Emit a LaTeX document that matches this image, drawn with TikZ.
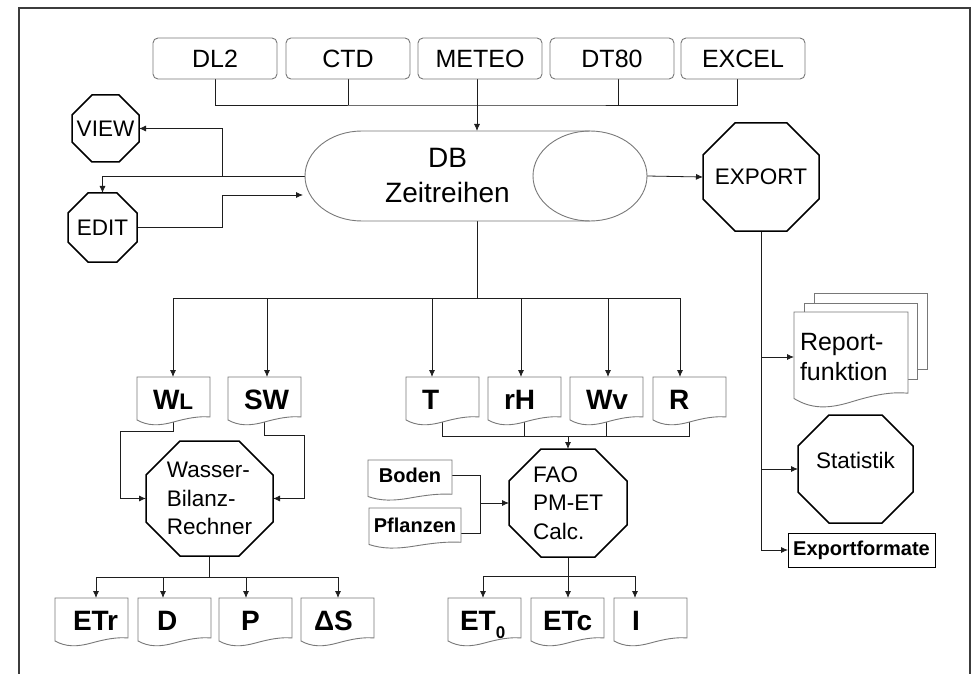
\documentclass[tikz,border=0pt]{standalone}
\usepackage{fontspec}
\setmainfont{Liberation Sans}
\usetikzlibrary{arrows.meta, calc, positioning}
\renewcommand{\scriptsize}{\fontsize{20}{24}\selectfont}
\renewcommand{\small}{\fontsize{22.5}{28.5}\selectfont}
\renewcommand{\normalsize}{\fontsize{25}{30}\selectfont}
\renewcommand{\large}{\fontsize{28}{35}\selectfont}
\definecolor{FrameGray}{RGB}{60,60,60}
\definecolor{BoxGray}{RGB}{120,120,120}
\definecolor{LinkDark}{RGB}{30,30,30}
\pgfdeclarelayer{background}
\pgfsetlayers{background,main}

% document sheet with a wavy lower edge round a node
\newcommand{\docshape}[2][4]{%
  \draw[docline] (#2.north west) -- ($(#2.south west)+(0,-0.5*#1)$)
    .. controls ($(#2.south west)!0.15!(#2.south east)+(0,#1)$)
           and ($(#2.south west)!0.3!(#2.south east)+(0,#1)$) .. (#2.south)
    .. controls ($(#2.south west)!0.7!(#2.south east)+(0,-#1)$)
           and ($(#2.south west)!0.85!(#2.south east)+(0,-1.5*#1)$)
    .. ($(#2.south east)+(0,-1.25*#1)$) -- (#2.north east) -- cycle;}
% octagon round a node
\newcommand{\octshape}[2][32]{%
  \draw[octline] ([xshift=#1pt]#2.north west) -- ([xshift=-#1pt]#2.north east)
    -- ([yshift=-#1pt]#2.north east) -- ([yshift=#1pt]#2.south east)
    -- ([xshift=-#1pt]#2.south east) -- ([xshift=#1pt]#2.south west)
    -- ([yshift=#1pt]#2.south west) -- ([yshift=-#1pt]#2.north west) -- cycle;}

\begin{document}
\begin{tikzpicture}[x=1pt, y=-1pt,
    src/.style={draw=BoxGray, rounded corners=5pt, line width=0.9pt,
                minimum width=124pt, minimum height=41pt, inner sep=0pt,
                outer sep=0pt, font=\normalsize},
    oct/.style={inner sep=0pt, outer sep=0pt, align=left, font=\small},
    doc/.style={inner sep=0pt, outer sep=0pt, minimum width=73pt,
                minimum height=45pt, text width=41pt, align=left,
                text height=20pt, text depth=0pt, font=\large\bfseries},
    tag/.style={inner sep=0pt, outer sep=0pt, minimum height=38pt,
                align=center, text height=15pt, font=\scriptsize\bfseries},
    link/.style={draw=LinkDark, line width=0.8pt},
    flow/.style={link, -{Latex[length=7pt, width=6pt]}},
    docline/.style={draw=BoxGray, line width=0.9pt, fill=white},
    octline/.style={draw=black, line width=1.5pt},
  ]
  \useasboundingbox (0,0) rectangle (975,674);
  \draw[FrameGray, line width=1.4pt] (19,674) -- (19,8) -- (970,8) -- (970,674);

  % data sources
  \node[src] (dl2) at (215,58.5) {DL2};
  \node[src, right=9pt of dl2] (ctd) {CTD};
  \node[src, right=8pt of ctd] (meteo) {METEO};
  \node[src, right=8pt of meteo] (dt80) {DT80};
  \node[src, right=7pt of dt80] (excel) {EXCEL};

  % database
  \node[inner sep=0pt, outer sep=0pt, minimum width=285pt, minimum height=90pt,
        align=center, font=\large] (db) at (447.5,176) {DB\\Zeitreihen};
  \coordinate (dbend) at ([xshift=57pt]db.east);

  \node[oct, minimum width=67pt, minimum height=67pt] (view) at (105.5,128.5) {VIEW};
  \node[oct, minimum width=69pt, minimum height=69pt] (edit) at (102.5,227.5) {EDIT};
  \node[oct, minimum width=116pt, minimum height=108pt] (export) at (761,177) {EXPORT};

  % series
  \node[doc] (wl) at (173.5,399.5) {W{\small L}};
  \node[doc] (sw) at (264.5,399.5) {SW};
  \node[doc] (t) at (442.5,399.5) {T};
  \node[doc, right=9pt of t] (rh) {rH};
  \node[doc, right=9pt of rh] (wv) {Wv};
  \node[doc, right=10pt of wv] (r) {R};

  \node[oct, minimum width=127pt, minimum height=115pt] (wasser) at (209.5,498.5)
    {Wasser-\\Bilanz-\\Rechner};
  \node[oct, minimum width=118pt, minimum height=108pt] (fao) at (568,503)
    {FAO\\PM-ET\\Calc.};
  \node[tag, minimum width=84pt, text depth=8pt] (boden) at (410,479) {Boden};
  \node[tag, minimum width=92pt, text depth=4pt] (pflanzen) at (415,527) {Pflanzen};

  % results
  \node[doc, text width=37pt] (etr) at (91.5,620.5) {ETr};
  \node[doc, text width=35pt, right=10pt of etr] (d) {D};
  \node[doc, text width=29pt, right=8pt of d] (p) {P};
  \node[doc, text width=47pt, right=9pt of p] (ds) {ΔS};
  \node[doc, text width=49pt] (et0) at (484.5,620.5)
    {ET\raisebox{-8pt}{\fontsize{17}{17}\selectfont 0}};
  \node[doc, text width=49pt, right=10pt of et0] (etc) {ETc};
  \node[doc, text width=37pt, right=10pt of etc] (i) {I};

  % export side
  \node[inner sep=0pt, outer sep=0pt, minimum width=114pt, minimum height=90pt,
        text width=102pt, align=left, font=\normalsize] (report) at (851,357)
    {Report-\\funktion};
  \node[oct, minimum width=115pt, minimum height=108pt, text depth=18pt] (stat)
    at (855.5,469) {Statistik};
  \node[draw=black, line width=0.9pt, inner sep=0pt, outer sep=0pt,
        minimum width=147pt, minimum height=34pt, font=\scriptsize\bfseries]
    (expf) at (861.5,550) {Exportformate};

  \begin{pgfonlayer}{background}
    \coordinate (bus) at (477,105);
    \coordinate (split) at (477,298);
    \draw[link] (dl2.south) |- (bus) -| ([xshift=-6pt]excel.south);
    \draw[link] (ctd.south) -- (ctd.south |- bus);
    \draw[link] ([xshift=6pt]dt80.south) -- ([xshift=6pt]dt80.south |- bus);
    \draw[flow] (meteo.south -| bus) -- (bus |- db.north);

    \coordinate (vsplit) at (222,176);
    \coordinate (dbin) at (303,195);
    \draw[flow] (db.west) -| (edit.north);
    \draw[flow] (vsplit) |- (view.east);
    \draw[flow] (edit.east) -| (vsplit |- dbin) -- (dbin);
    \draw[flow] (dbend) -- (export.west);

    \draw[link] (bus |- db.south) -- (split);
    \foreach \n/\dx in {wl/-0.5, sw/2.5, t/-10.5, rh/-3.5, wv/1.5, r/-9.5}
      \draw[flow] (split) -| ([xshift=\dx pt]\n.north);

    \draw[flow] (wl.south) |- ++(-53,9) |- (wasser.west);
    \draw[flow] (sw.south) |- ++(40,13) |- (wasser.east);
    \coordinate (wsplit) at (209.5,577);
    \draw[link] (wasser.south) -- (wsplit);
    \foreach \n/\dx in {etr/4.5, d/-11.5, p/-9.5, ds/0.5}
      \draw[flow] (wsplit) -| ([xshift=\dx pt]\n.north);

    \coordinate (mjoin) at (568,436);
    \foreach \n in {t,rh,wv,r}
      \draw[link] (\n.south) |- (mjoin);
    \draw[flow] (mjoin) -- (fao.north);
    \coordinate (fjoin) at (480,503);
    \draw[link] ([yshift=4pt]boden.east) -| (fjoin);
    \draw[link] ([yshift=-6pt]pflanzen.east) -| (fjoin);
    \draw[flow] (fjoin) -- (fao.west);
    \coordinate (fsplit) at (568,576);
    \draw[link] (fao.south) -- (fsplit);
    \foreach \n/\dx in {et0/-1.5, etc/0.5, i/-15.5}
      \draw[flow] (fsplit) -| ([xshift=\dx pt]\n.north);

    \draw[flow] (export.south) |- (report.west);
    \draw[flow] (export.south) |- (stat.west);
    \draw[flow] (export.south) |- (expf.west);

    % outlines
    \draw[docline, fill=none] (db.north east) -- ([xshift=57pt]db.north west)
      arc[start angle=90, end angle=270, x radius=57pt, y radius=45pt]
      -- (db.south east);
    \draw[docline, fill=none] (db.east) ellipse[x radius=57pt, y radius=45pt];
    \octshape[20]{view}
    \octshape[20]{edit}
    \octshape{export}
    \octshape[34]{wasser}
    \octshape{fao}
    \octshape[31]{stat}
    \foreach \n in {wl,sw,t,rh,wv,r,etr,d,p,ds,et0,etc,i}
      \docshape{\n};
    \docshape[3]{boden}
    \docshape[3]{pflanzen}
    \draw[docline] ([shift={(20pt,19pt)}]report.north west)
      rectangle ([shift={(19pt,33pt)}]report.south east);
    \draw[docline] ([shift={(10pt,9pt)}]report.north west)
      rectangle ([shift={(9pt,23pt)}]report.south east);
    \docshape[7]{report}
  \end{pgfonlayer}
\end{tikzpicture}
\end{document}
